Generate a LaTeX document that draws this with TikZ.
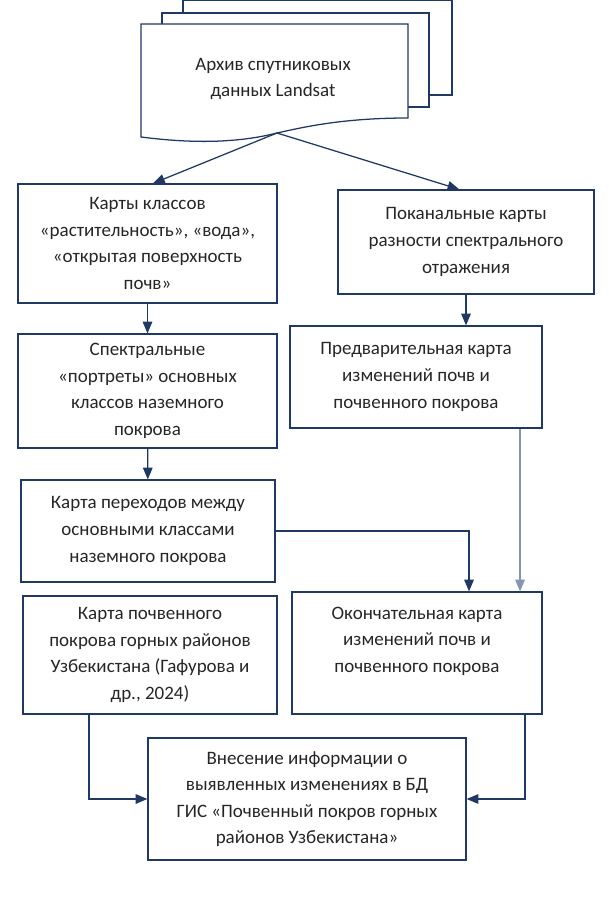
\documentclass[tikz,border=0pt]{standalone}
\usepackage{fontspec}
\setmainfont{Carlito}
\usepackage{tikz}
\usetikzlibrary{positioning,arrows}
\usetikzlibrary{calc}
\definecolor{navy}{HTML}{1F3864}
\definecolor{greyblue}{HTML}{8497B0}
\definecolor{txt}{HTML}{262626}
\tikzset{
  stepnode/.style = {rectangle, draw=navy, fill=white, line width=0.9pt,
    align=center, inner sep=0pt, text=txt,
    font=\fontsize{13.5}{18.9}\selectfont},
  sheet/.style = {draw=navy, fill=white, line width=0.9pt, line join=miter},
  flow/.style = {->, draw=navy, line width=0.9pt}
}

\begin{document}
\begin{tikzpicture}[x=0.025cm, y=-0.025cm, >=triangle 45]
\useasboundingbox (0,0) rectangle (608,898);
% archive (three sheets)
\draw[sheet] (183,13) -- (183,0.7) -- (452,0.7) -- (452,95) -- (429,95);
\draw[sheet] (162,24) -- (162,13) -- (429,13) -- (429,107) -- (408,107);
\draw[sheet] (141,137) -- (141,24) -- (408,24) -- (408,118)
    .. controls (340,118) and (300,128) .. (277,133)
    .. controls (230,145) and (180,142) .. (141,137) -- cycle;
\node (arch) [align=center, text=txt, font=\fontsize{13.5}{18.9}\selectfont]
    at (273,79) {Архив спутниковых\\данных Landsat};
\coordinate (archbot) at (277,133);
%
% left column
\node (A) [stepnode, minimum width=6.475cm, minimum height=2.975cm]
    at (147.5,243.5) {Карты классов\\«растительность», «вода»,\\«открытая поверхность\\почв»};
\node (C) [stepnode, minimum width=6.475cm, minimum height=2.85cm]
    at (147.5,391) {Спектральные\\«портреты» основных\\классов наземного\\покрова};
\node (E) [stepnode, minimum width=6.35cm, minimum height=2.55cm]
    at (148,531) {Карта переходов между\\основными классами\\наземного покрова};
\node (G) [stepnode, minimum width=6.35cm, minimum height=2.95cm]
    at (150,655) {Карта почвенного\\покрова горных районов\\Узбекистана (Гафурова и\\др., 2024)};
%
% right column
\node (B) [stepnode, minimum width=6.4cm, minimum height=2.6cm]
    at (466,242) {Поканальные карты\\разности спектрального\\отражения};
\node (D) [stepnode, minimum width=6.3cm, minimum height=2.55cm]
    at (416,377) {Предварительная карта\\изменений почв и\\почвенного покрова};
\node (F) [stepnode, minimum width=6.25cm, minimum height=3.05cm]
    at (417,653) {Окончательная карта\\изменений почв и\\почвенного покрова\\~};
%
\node (H) [stepnode, minimum width=7.95cm, minimum height=3.05cm]
    at (307,799) {Внесение информации о\\выявленных изменениях в БД\\ГИС «Почвенный покров горных\\районов Узбекистана»};
%
\draw[flow] (archbot) -- ([xshift=0.14cm]A.north);
\draw[flow] (archbot) -- ([xshift=-0.17cm]B.north);
\draw[flow] (A) -- (C);
\draw[flow] (C) -- (E);
\draw[flow] (B.south) -- (B.south |- D.north);
\draw[flow] (E.east) -| ([xshift=1.3cm]F.north);
\draw[flow, draw=greyblue] ([xshift=2.6cm]D.south) -- ([xshift=2.6cm]D.south |- F.north);
%
\draw[flow] ([xshift=-1.525cm]G.south) |- (H.west);
\draw[flow] ([xshift=2.7cm]F.south) |- (H.east);
\end{tikzpicture}
\end{document}
